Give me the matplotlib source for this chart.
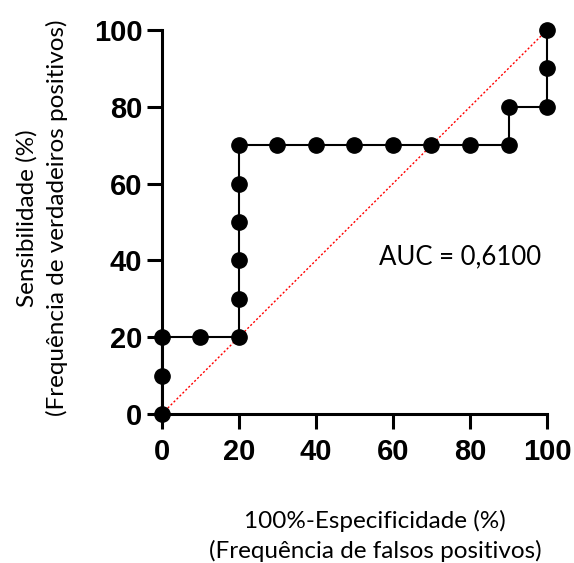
import matplotlib
matplotlib.use('Agg')
import matplotlib.pyplot as plt

# ROC curve points (100%-specificity, sensitivity)
fpr = [0, 0, 0, 10, 20, 20, 20, 20, 20, 20, 30, 40, 50, 60, 70, 80, 90, 90, 100, 100, 100]
tpr = [0, 10, 20, 20, 20, 30, 40, 50, 60, 70, 70, 70, 70, 70, 70, 70, 70, 80, 80, 90, 100]
ticks = [0, 20, 40, 60, 80, 100]
auc_text = 'AUC = 0,6100'

fig = plt.figure(figsize=(5.74, 5.63), dpi=100)
ax = fig.add_axes([0.282, 0.2647, 0.671, 0.682])

# chance line
ax.plot([0, 100], [0, 100], color='red', linestyle=(0, (1.5, 1.5)), linewidth=1.0, zorder=1)
# ROC curve as steps with markers
ax.plot(fpr, tpr, color='black', linewidth=1.5, marker='o', markersize=11,
        clip_on=False, zorder=3)

ax.set_xlim(0, 100)
ax.set_ylim(0, 100)
ax.set_xticks(ticks)
ax.set_yticks(ticks)
ax.set_xticklabels([str(t) for t in ticks], fontsize=21, fontweight='bold',
                   family='Liberation Sans')
ax.set_yticklabels([str(t) for t in ticks], fontsize=21, fontweight='bold',
                   family='Liberation Sans')
ax.tick_params(axis='x', direction='out', length=11, width=2.2, pad=6)
ax.tick_params(axis='y', direction='out', length=11, width=2.2, pad=3)
for s in ['top', 'right']:
    ax.spines[s].set_visible(False)
for s in ['left', 'bottom']:
    ax.spines[s].set_linewidth(2.2)

ax.text(56.5, 41, auc_text, fontsize=18.5, family='Lato', va='center', ha='left')

fig.text(375 / 574, 1 - 536 / 563, '100%-Especificidade (%)\n(Frequência de falsos positivos)',
         ha='center', va='center', fontsize=17.5, family='Lato', linespacing=1.45)
fig.text(42 / 574, 1 - 218 / 563, 'Sensibilidade (%)\n(Frequência de verdadeiros positivos)',
         ha='center', va='center', rotation=90, fontsize=17.5, family='Lato', linespacing=1.45)

fig.savefig('out.png', dpi=100)
